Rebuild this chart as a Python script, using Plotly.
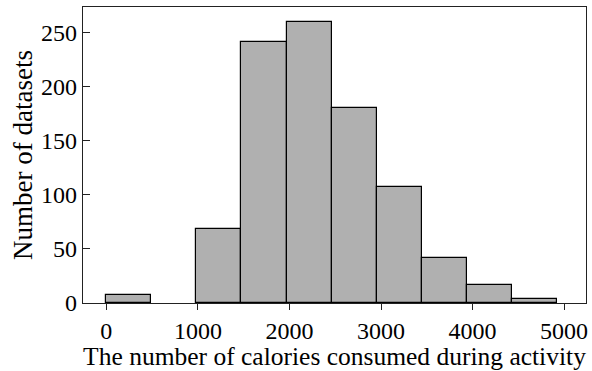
import plotly.graph_objects as go

bin_width = 492
bin_starts = [0, 492, 984, 1476, 1968, 2460, 2952, 3444, 3936, 4428]
counts = [7, 0, 68, 241, 260, 180, 107, 42, 17, 4]
x_ticks = [0, 1000, 2000, 3000, 4000, 5000]
y_ticks = [0, 50, 100, 150, 200, 250]

centers = [s + bin_width / 2 for s in bin_starts]
line_widths = [1.2 if c > 0 else 0 for c in counts]

fig = go.Figure(go.Bar(
    x=centers, y=counts, width=[bin_width] * len(counts),
    marker=dict(color="#b0b0b0", line=dict(color="black", width=line_widths)),
))

font_family = "Liberation Serif"
fig.update_layout(
    width=592, height=371,
    margin=dict(l=83, r=6, t=7, b=68),
    plot_bgcolor="white", paper_bgcolor="white",
    showlegend=False, bargap=0,
    font=dict(family=font_family, size=24, color="black"),
)
fig.update_xaxes(
    range=[-255, 5239], tickvals=x_ticks, ticks="outside", ticklen=6,
    tickcolor="#222", showline=True, linecolor="#222", linewidth=1.3,
    mirror=True, showgrid=False, zeroline=False, automargin=False,
    title=dict(text="The number of calories consumed during activity", standoff=0,
               font=dict(size=25.5)),
    tickfont=dict(size=24),
)
fig.update_yaxes(
    range=[0, 273.8], tickvals=y_ticks, ticks="inside", ticklen=7,
    tickcolor="#222", showline=True, linecolor="#222", linewidth=1.3,
    mirror=True, showgrid=False, zeroline=False, automargin=False,
    title=dict(text="Number of datasets", standoff=0, font=dict(size=27)),
    tickfont=dict(size=24),
)
fig.write_html("out.html", config={"displayModeBar": False},
               post_script="document.body.style.margin='0';document.body.style.padding='0';")
